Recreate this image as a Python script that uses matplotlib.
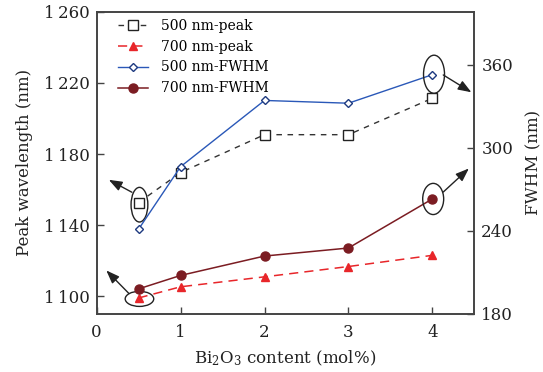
import matplotlib
matplotlib.use("Agg")
import matplotlib.pyplot as plt
from matplotlib.patches import Ellipse
from matplotlib.ticker import FuncFormatter

plt.rcParams['font.family'] = ['DejaVu Serif']
plt.rcParams['mathtext.default'] = 'regular'

# Bi2O3 content (mol%)
content = [0.5, 1, 2, 3, 4]
# Peak wavelengths (nm), left axis
peak_500 = [1152.7, 1169.6, 1190.9, 1190.9, 1211.4]
peak_700 = [1099.0, 1105.3, 1110.9, 1116.7, 1123.0]
# Full width at half maximum (nm), right axis
fwhm_500 = [241.2, 286.3, 334.1, 332.1, 352.7]
fwhm_700 = [198.1, 207.8, 221.8, 227.6, 263.0]

x_ticks = [0, 1, 2, 3, 4]
left_ticks = [1100, 1140, 1180, 1220, 1260]
right_ticks = [180, 240, 300, 360]

c_peak500 = '#333333'
c_peak700 = '#e8262a'
c_fwhm500 = '#2a58b8'
c_fwhm700 = '#7b1c22'
c_axis = '#444444'
c_text = '#222222'

fig = plt.figure(figsize=(5.43, 3.72), dpi=100)
ax = fig.add_axes([0.178, 0.156, 0.6955, 0.812])
ax2 = ax.twinx()

h1, = ax.plot(content, peak_500, linestyle=(0, (4, 4)), color=c_peak500, lw=1.0,
              marker='s', markersize=7.5, markerfacecolor='white',
              markeredgecolor='#222222', markeredgewidth=1.0, label='500 nm-peak')
h2, = ax.plot(content, peak_700, linestyle=(0, (6, 4)), color=c_peak700, lw=1.1,
              marker='^', markersize=6, markerfacecolor=c_peak700,
              markeredgecolor=c_peak700, label='700 nm-peak')
h3, = ax2.plot(content, fwhm_500, linestyle='-', color=c_fwhm500, lw=1.0,
               marker='D', markersize=4.5, markerfacecolor='white',
               markeredgecolor='#1e3a80', markeredgewidth=1.0, label='500 nm-FWHM')
h4, = ax2.plot(content, fwhm_700, linestyle='-', color=c_fwhm700, lw=1.1,
               marker='o', markersize=6.5, markerfacecolor=c_fwhm700,
               markeredgecolor=c_fwhm700, label='700 nm-FWHM')

ax.set_xlim(0, 4.5)
ax.set_ylim(1090, 1260)
ax2.set_ylim(180, 398)

ax.set_xticks(x_ticks)
ax.set_yticks(left_ticks)
ax2.set_yticks(right_ticks)
ax.yaxis.set_major_formatter(FuncFormatter(lambda v, p: f"{int(v):,}".replace(',', '\u2009')))

for a in (ax, ax2):
    for s in a.spines.values():
        s.set_color(c_axis)
        s.set_linewidth(1.2)
    a.tick_params(direction='in', length=5, width=1.0, color=c_axis,
                  labelsize=12, labelcolor=c_text, pad=5)
ax.tick_params(axis='x', pad=7)
ax.tick_params(axis='y', right=False)
ax2.tick_params(axis='y', left=False)

ax.set_xlabel('Bi$_2$O$_3$ content (mol%)', fontsize=12, color=c_text, labelpad=6)
ax.set_ylabel('Peak wavelength (nm)', fontsize=12, color=c_text, labelpad=8)
ax2.set_ylabel('FWHM (nm)', fontsize=12, color=c_text, rotation=90, labelpad=9)

ax2.legend(handles=[h1, h2, h3, h4], loc='upper left', frameon=False,
           fontsize=10, handlelength=2.2, handletextpad=0.9,
           labelspacing=0.5, borderaxespad=0.3, bbox_to_anchor=(0.03, 1.01))

# Ellipses marking which axis each series belongs to
ell_kw = dict(fill=False, edgecolor='#222222', lw=1.0, zorder=5)
ax.add_patch(Ellipse((0.51, 1151.5), 0.2, 19.5, **ell_kw))
ax.add_patch(Ellipse((0.51, 1098.5), 0.34, 8.5, **ell_kw))
ax2.add_patch(Ellipse((4.02, 353.0), 0.25, 27.5, **ell_kw))
ax2.add_patch(Ellipse((4.01, 263.0), 0.25, 22.5, **ell_kw))

arr_kw = dict(arrowstyle='-|>,head_length=0.8,head_width=0.3', color='#222222',
              lw=1.0, shrinkA=0, shrinkB=0)
ax.annotate('', xy=(0.145, 1165.5), xytext=(0.42, 1158.5), arrowprops=arr_kw)
ax.annotate('', xy=(0.115, 1114.5), xytext=(0.385, 1101.5), arrowprops=arr_kw)
ax2.annotate('', xy=(4.465, 340.0), xytext=(4.13, 352.5), arrowprops=arr_kw)
ax2.annotate('', xy=(4.435, 285.0), xytext=(4.13, 268.0), arrowprops=arr_kw)

fig.savefig('out.png', dpi=100)
